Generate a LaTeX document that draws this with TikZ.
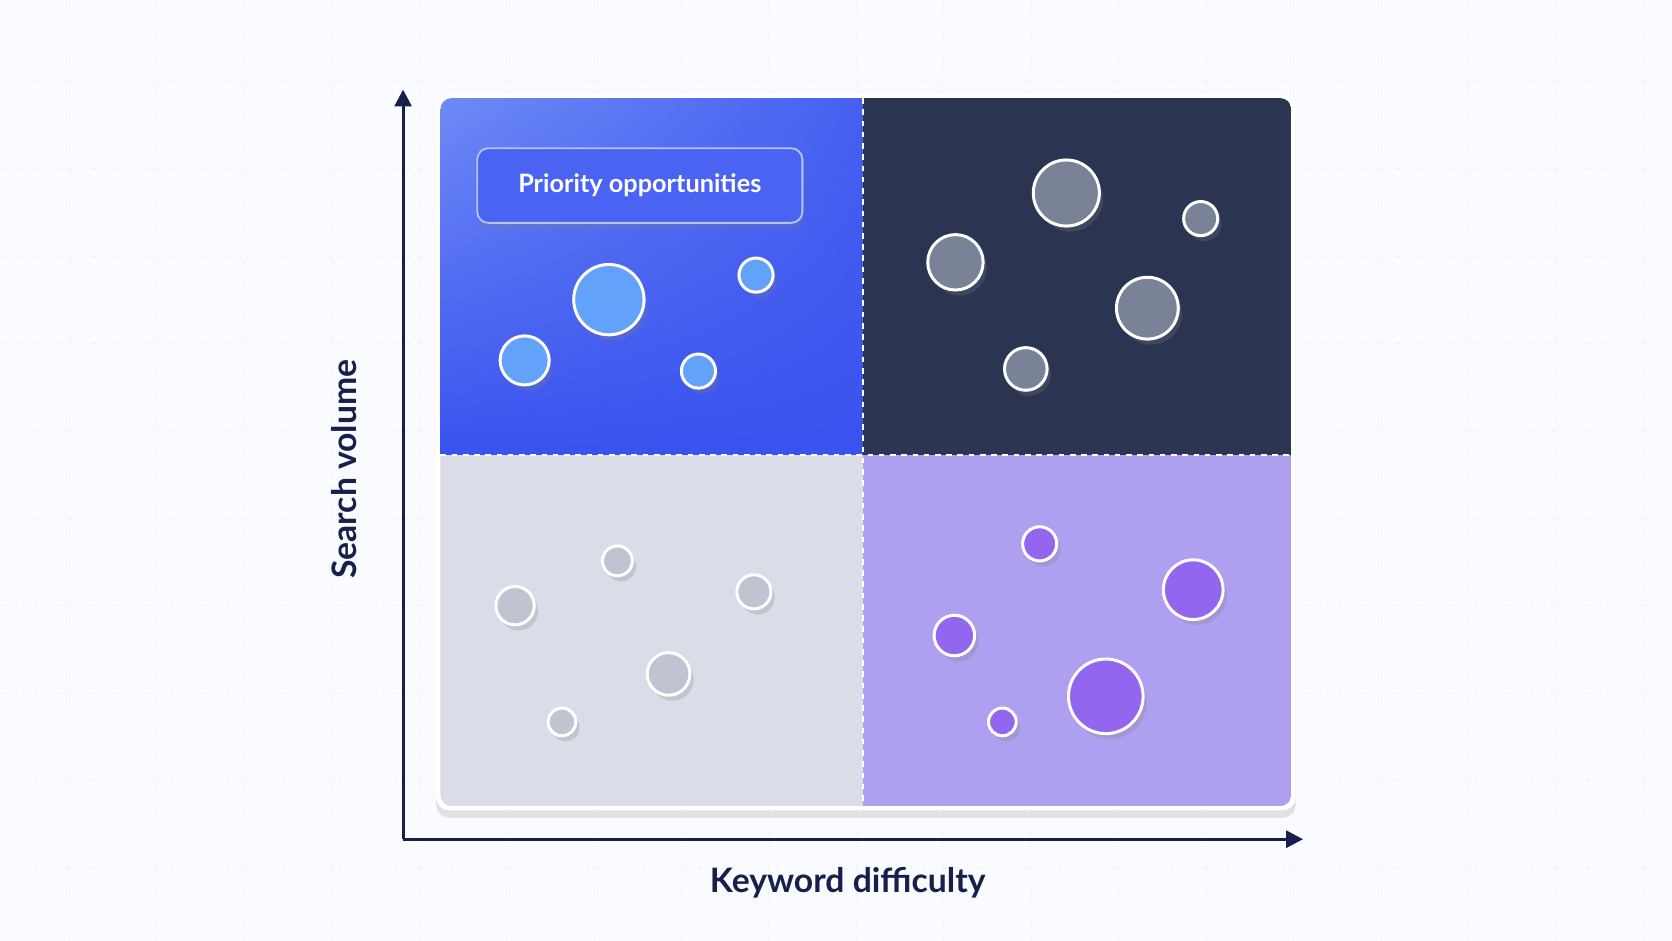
\documentclass[tikz,border=0pt]{standalone}
\usepackage{fontspec}
\setmainfont{Lato}
\usetikzlibrary{shadows,shadings,arrows.meta}
\definecolor{bgC}{HTML}{FAFBFE}
\definecolor{ink}{HTML}{16204A}
\definecolor{tlA}{HTML}{6E8AF6}
\definecolor{tlB}{HTML}{3A52EE}
\definecolor{tlM}{HTML}{4560F0}
\definecolor{trC}{HTML}{2B3552}
\definecolor{blC}{HTML}{DADDE8}
\definecolor{brC}{HTML}{AE9FF0}
\definecolor{dotTL}{HTML}{62A2FA}
\definecolor{dotTR}{HTML}{7A8298}
\definecolor{dotBL}{HTML}{C0C3D0}
\definecolor{dotBR}{HTML}{9366F0}
\definecolor{labelC}{HTML}{4A63F2}
\tikzset{
	dot/.style = {circle, draw = white, line width = 1.6pt, inner sep = 0pt,
		drop shadow = {opacity = 0.25, shadow xshift = 2pt, shadow yshift = -3pt}},
	axis/.style = {line width = 1.6pt, draw = ink, -{Triangle[length = 9pt, width = 9pt]}},
	title/.style = {font = \bfseries\fontsize{18}{20}\selectfont, text = ink}
}
\begin{document}
\begin{tikzpicture}[x = 0.02cm, y = -0.02cm]
	\fill[bgC] (0,0) rectangle (1568,882);
	\useasboundingbox (0,0) rectangle (1568,882);

	% background grid
	\foreach \gx in {65,147,...,1568}
		\draw[dashed, black!5, line width = 0.4pt] (\gx,0) -- (\gx,882);
	\foreach \gy in {76,158,...,882}
		\draw[dashed, black!5, line width = 0.4pt] (0,\gy) -- (1568,\gy);

	% panel
	\fill[white, rounded corners = 7pt, drop shadow = {opacity = 0.2, shadow xshift = 0pt, shadow yshift = -4pt}]
		(409,88) rectangle (1215,760);
	\begin{scope}
		\clip[rounded corners = 6pt] (413,92) rectangle (1211,756);
		\shade[upper left = tlA, lower right = tlB, upper right = tlM, lower left = tlB] (413,92) rectangle (809,427);
		\fill[trC] (809,92) rectangle (1211,427);
		\fill[blC] (413,427) rectangle (809,756);
		\fill[brC] (809,427) rectangle (1211,756);
	\end{scope}
	\draw[white, dashed, line width = 1pt] (809,92) -- (809,756);
	\draw[white, dashed, line width = 1pt] (413,427) -- (1211,427);

	% axes
	\coordinate (O) at (378,787);
	\coordinate (Ytop) at (378,84);
	\coordinate (Xend) at (1222,787);
	\draw[axis] (O) -- (Ytop);
	\draw[axis] (O) -- (Xend);
	\node[title, rotate = 90] (ylab) at (323,440) {Search volume};
	\node[title] (xlab) at (795,828) {Keyword difficulty};

	% label
	\node[draw = white!60!labelC, line width = 1pt, fill = labelC, rounded corners = 6pt,
		minimum width = 6.1cm, minimum height = 1.4cm, text = white,
		font = \bfseries\fontsize{13.5}{15}\selectfont,
		drop shadow = {opacity = 0.25, shadow xshift = 1pt, shadow yshift = -3pt}]
		(prio) at (600,174) {Priority opportunities};

	% keywords
	\foreach \cx/\cy/\r [count = \i] in {571/281/33, 709/258/16, 492/338/23, 655/348/16}
		\node[dot, fill = dotTL, minimum size = 0.04cm*\r] (tl\i) at (\cx,\cy) {};
	\foreach \cx/\cy/\r [count = \i] in {1000/181/31, 1126/205/16, 896/246/26, 1076/289/29, 962/346/20}
		\node[dot, fill = dotTR, minimum size = 0.04cm*\r] (tr\i) at (\cx,\cy) {};
	\foreach \cx/\cy/\r [count = \i] in {483/568/18, 579/526/14, 707/555/16, 627/632/20, 527/677/13}
		\node[dot, fill = dotBL, minimum size = 0.04cm*\r] (bl\i) at (\cx,\cy) {};
	\foreach \cx/\cy/\r [count = \i] in {975/510/16, 1119/553/28, 895/596/19, 1037/653/35, 940/677/13}
		\node[dot, fill = dotBR, minimum size = 0.04cm*\r] (br\i) at (\cx,\cy) {};

\end{tikzpicture}
\end{document}
